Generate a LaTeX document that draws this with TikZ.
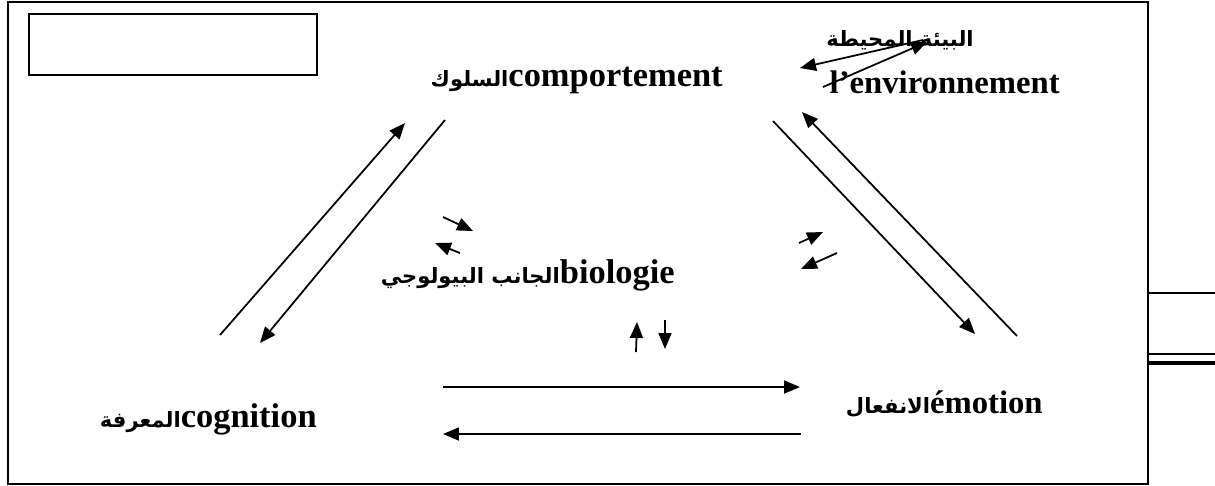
\documentclass[tikz,border=0pt]{standalone}
\usepackage{fontspec}
\setmainfont{Liberation Serif}
\newfontfamily\arabicfont[Script=Arabic]{DejaVu Sans}
\TeXXeTstate=1
\usetikzlibrary{arrows.meta}

\newcommand{\arab}[1]{{\arabicfont\bfseries\fontsize{12}{14}\selectfont\beginR #1\endR}}
\tikzset{
  arr/.style={-{Triangle[length=3.2mm,width=2.6mm]}, line width=1pt},
  lbl/.style={font=\fontsize{19.6}{22}\selectfont\bfseries, inner sep=0pt, anchor=base east},
}

\begin{document}
\begin{tikzpicture}[x=0.02cm,y=-0.02cm]
  \useasboundingbox (0,0) rectangle (1215,485);

  % frames
  \draw[line width=1.2pt] (8,2) rectangle (1148,484);
  \draw[line width=1.2pt] (29,14) rectangle (317,75);
  \draw[line width=0.9pt] (1148,293) -- (1215,293);
  \draw[line width=0.9pt] (1148,354) -- (1215,354);
  \draw[line width=2.4pt] (1148,363) -- (1215,363);

  % labels
  \node[lbl] (comp) at (723,86) {\arab{السلوك}comportement};
  \node[lbl, anchor=center] (envar) at (900,40) {\arab{البيئة المحيطة}};
  \node[lbl, font=\fontsize{18.6}{22}\selectfont\bfseries] (env) at (1060,93) {l'environnement};
  \node[lbl] (bio) at (675,283) {\arab{الجانب  البيولوجي}biologie};
  \node[lbl] (cog) at (317,427) {\arab{المعرفة}cognition};
  \node[lbl, font=\fontsize{18.6}{22}\selectfont\bfseries] (emo) at (1043,413) {\arab{الانفعال}émotion};

  % arrow ends
  \coordinate (lu1) at (220,335);  \coordinate (lu2) at (405,123);
  \coordinate (ld1) at (445,120);  \coordinate (ld2) at (260,343);
  \coordinate (rd1) at (773,121);  \coordinate (rd2) at (975,334);
  \coordinate (ru1) at (1017,336); \coordinate (ru2) at (802,112);
  \coordinate (hr1) at (443,387);  \coordinate (hr2) at (800,387);
  \coordinate (hl1) at (801,434);  \coordinate (hl2) at (443,434);
  \coordinate (ea1) at (923,40);   \coordinate (ea2) at (800,68);
  \coordinate (eb1) at (823,87);   \coordinate (eb2) at (927,42);
  \coordinate (ba1) at (443,217);  \coordinate (ba2) at (473,231);
  \coordinate (bb1) at (460,253);  \coordinate (bb2) at (435,243);
  \coordinate (bc1) at (799,243);  \coordinate (bc2) at (823,232);
  \coordinate (bd1) at (837,253);  \coordinate (bd2) at (801,269);
  \coordinate (vu1) at (636,352);  \coordinate (vu2) at (637,322);
  \coordinate (vd1) at (665,320);  \coordinate (vd2) at (665,349);

  \foreach \s/\e in {lu1/lu2, ld1/ld2, rd1/rd2, ru1/ru2, hr1/hr2, hl1/hl2,
                     ea1/ea2, eb1/eb2, ba1/ba2, bb1/bb2, bc1/bc2, bd1/bd2,
                     vu1/vu2, vd1/vd2}
    \draw[arr] (\s) -- (\e);
\end{tikzpicture}
\end{document}
